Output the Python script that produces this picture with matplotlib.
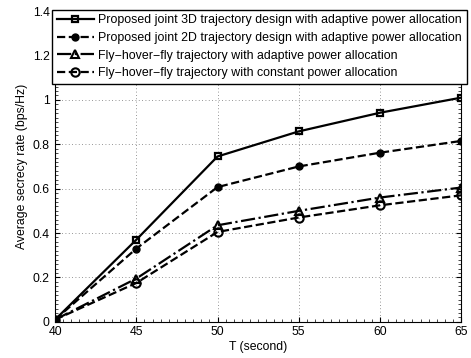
import matplotlib.pyplot as plt
from matplotlib.ticker import MultipleLocator

plt.rcParams['font.family'] = 'Liberation Sans'
plt.rcParams['font.size'] = 8.8

T = [40, 45, 50, 55, 60, 65]
rate_3d = [0.01, 0.37, 0.745, 0.858, 0.942, 1.01]
rate_2d = [0.01, 0.33, 0.607, 0.70, 0.762, 0.815]
fhf_adaptive = [0.01, 0.195, 0.435, 0.50, 0.56, 0.605]
fhf_constant = [0.01, 0.175, 0.405, 0.47, 0.525, 0.57]

labels = ['Proposed joint 3D trajectory design with adaptive power allocation',
          'Proposed joint 2D trajectory design with adaptive power allocation',
          'Fly\u2212hover\u2212fly trajectory with adaptive power allocation',
          'Fly\u2212hover\u2212fly trajectory with constant power allocation']

fig = plt.figure(figsize=(4.71, 3.58), dpi=100)
ax = fig.add_axes([0.117, 0.101, 0.862, 0.868])

ax.plot(T, rate_3d, 'k-', marker='s', ms=4, mfc='none', mew=1.6, lw=1.6, label=labels[0])
ax.plot(T, rate_2d, 'k--', marker='o', ms=5, mfc='k', lw=1.6, label=labels[1])
ax.plot(T, fhf_adaptive, 'k-.', marker='^', ms=6, mfc='none', mew=1.5, lw=1.6, label=labels[2])
ax.plot(T, fhf_constant, 'k--', marker='o', ms=6, mfc='none', mew=1.5, lw=1.6, label=labels[3])

ax.set_xlim(40, 65)
ax.set_ylim(0, 1.4)
ax.set_xticks([40, 45, 50, 55, 60, 65])
ax.set_yticks([0, 0.2, 0.4, 0.6, 0.8, 1, 1.2, 1.4])
ax.set_yticklabels(['0', '0.2', '0.4', '0.6', '0.8', '1', '1.2', '1.4'])
ax.xaxis.set_minor_locator(MultipleLocator(0.5))
ax.yaxis.set_minor_locator(MultipleLocator(0.02))
ax.grid(True, which='major', linestyle=(0, (1, 3)), color='k', lw=0.6, alpha=0.55)
ax.tick_params(which='both', direction='in', top=True, right=True)
ax.tick_params(which='major', length=3.5)
ax.tick_params(axis='x', which='major', pad=3)
ax.tick_params(axis='y', which='major', pad=4)
ax.tick_params(which='minor', length=2, width=0.5)
ax.set_xlabel('T (second)', labelpad=2)
ax.set_ylabel('Average secrecy rate (bps/Hz)', labelpad=3)

leg = ax.legend(loc='upper left', bbox_to_anchor=(52 / 471, 1 - 9.5 / 358),
                bbox_transform=fig.transFigure, fancybox=False, fontsize=8.9,
                edgecolor='k', framealpha=1, borderpad=0.4, labelspacing=0.45,
                handlelength=3.0, handletextpad=0.35, borderaxespad=0)
leg.get_frame().set_linewidth(1.0)

plt.savefig('out.png')
